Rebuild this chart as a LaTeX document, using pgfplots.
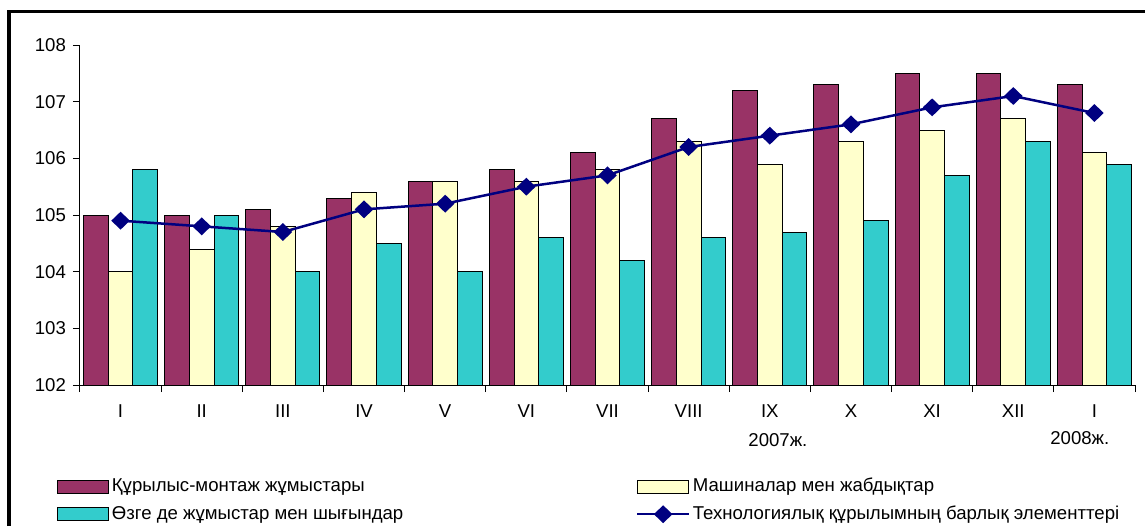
\documentclass[border=0pt]{standalone}
\usepackage{fontspec}
\setmainfont{Liberation Sans}
\usepackage{pgfplots}
\pgfplotsset{compat=1.18}

\definecolor{cMaroon}{HTML}{993366}
\definecolor{cCream}{HTML}{FFFFCC}
\definecolor{cTeal}{HTML}{33CCCC}
\definecolor{cNavy}{HTML}{000080}

\newcommand{\chfont}{\fontsize{9.3}{11}\selectfont}

\pgfplotsset{
  mybar/.style={
    ybar, bar width=12.35pt, draw=black, line width=0.5pt,
    legend image code/.code={\draw[##1] (0pt,-3.25pt) rectangle (25.5pt,3.25pt);}
  },
  myline/.style={
    legend image code/.code={\draw[mark repeat=2, mark phase=2, ##1]
      plot coordinates {(0pt,0pt) (13pt,0pt) (26pt,0pt)};}
  },
}

\begin{document}
\begin{tikzpicture}
\useasboundingbox (-40pt,-70.5pt) rectangle (532.5pt,192.5pt);
\begin{axis}[
  scale only axis,
  width=527.5pt, height=170pt,
  xmin=-0.5, xmax=12.5,
  ymin=102, ymax=108,
  ytick={102,103,...,108},
  xtick={-0.5,0.5,...,12.5},
  xticklabels={},
  extra x ticks={0,1,...,12},
  extra x tick labels={I,II,III,IV,V,VI,VII,VIII,IX,X,XI,XII,I},
  extra x tick style={major tick length=0pt,
    xticklabel style={anchor=center, yshift=-13pt}},
  axis x line*=bottom, axis y line*=left,
  axis line style={black, line width=0.5pt},
  tick style={black, line width=0.5pt},
  tick align=outside,
  major tick length=3.5pt,
  ticklabel style={font=\chfont},
  /pgf/number format/assume math mode=true,
  clip=false,
  legend columns=2,
  legend cell align=left,
  legend style={
    at={(axis description cs:0,0)}, anchor=north west,
    xshift=-11.5pt, yshift=-46.5pt,
    draw=none, fill=none, inner sep=0pt,
    font=\chfont,
    column sep=1.25pt, row sep=5.3pt,
    nodes={inner sep=0pt, text height=6.7pt, text depth=1.7pt},
  },
]
\addplot[mybar, fill=cMaroon, bar shift=-12.35pt] coordinates {
  (0,105.0) (1,105.0) (2,105.1) (3,105.3) (4,105.6) (5,105.8) (6,106.1)
  (7,106.7) (8,107.2) (9,107.3) (10,107.5) (11,107.5) (12,107.3)};
\addlegendentry{\makebox[260.75pt][l]{Құрылыс-монтаж жұмыстары}}
\addplot[mybar, fill=cCream, bar shift=0pt] coordinates {
  (0,104.0) (1,104.4) (2,104.8) (3,105.4) (4,105.6) (5,105.6) (6,105.8)
  (7,106.3) (8,105.9) (9,106.3) (10,106.5) (11,106.7) (12,106.1)};
\addlegendentry{Машиналар мен жабдықтар}
\addplot[mybar, fill=cTeal, bar shift=12.35pt] coordinates {
  (0,105.8) (1,105.0) (2,104.0) (3,104.5) (4,104.0) (5,104.6) (6,104.2)
  (7,104.6) (8,104.7) (9,104.9) (10,105.7) (11,106.3) (12,105.9)};
\addlegendentry{\makebox[260.75pt][l]{Өзге де жұмыстар мен шығындар}}
\addplot[myline, cNavy, line width=1.25pt, mark=diamond*, mark size=3.6pt,
  mark options={xscale=1.39, solid, fill=cNavy}]
  coordinates {
  (0,104.9) (1,104.8) (2,104.7) (3,105.1) (4,105.2) (5,105.5) (6,105.7)
  (7,106.2) (8,106.4) (9,106.6) (10,106.9) (11,107.1) (12,106.8)};
\addlegendentry{Технологиялық құрылымның барлық элементтері}
\node[font=\chfont, anchor=center] at ([yshift=-27.5pt]axis cs:8.1,102) {2007ж.};
\node[font=\chfont, anchor=center] at ([yshift=-26.5pt]axis cs:11.82,102) {2008ж.};
\end{axis}
\draw[line width=1.5pt] (-35.5pt,-70.5pt) -- (-35.5pt,187pt) -- (532.5pt,187pt);
\end{tikzpicture}
\end{document}
